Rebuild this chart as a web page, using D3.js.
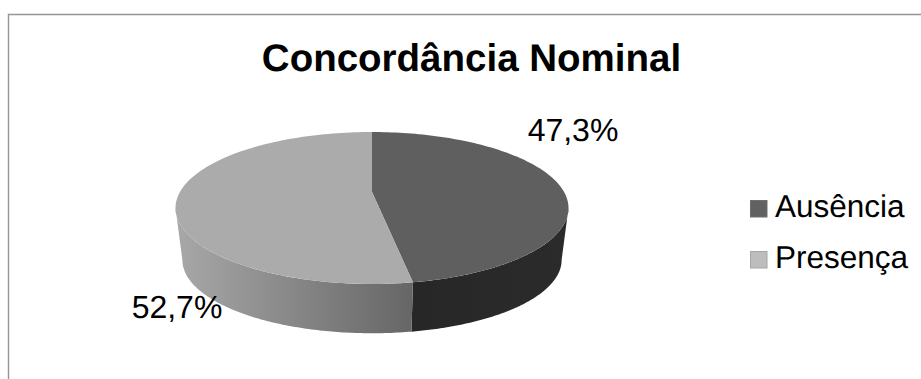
<!DOCTYPE html>
<html>
<head>
<meta charset="utf-8">
<script src="https://cdn.jsdelivr.net/npm/d3@7"></script>
<style>
html,body{margin:0;padding:0;background:#fff}
svg{display:block}
text{font-family:"Liberation Sans",Arial,sans-serif;fill:#000;text-rendering:geometricPrecision}
</style>
</head>
<body>
<svg id="chart" width="921" height="379"></svg>
<script>
const categories = ["Ausência", "Presença"];
const shares = [47.3, 52.7];
const shareLabels = ["47,3%", "52,7%"];
const topColors = ["#5f5f5f", "#ababab"];
const swatchColors = ["#616161", "#bdbdbd"];
const swatchStrokes = ["#6f6f6f", "#a6a6a6"];
const chartTitle = "Concordância Nominal";

const svg = d3.select("#chart");
const W = 921, H = 379;

// Frame runs off the right and bottom edges of the page
svg.append("path")
  .attr("d", d3.line()([[8.5, H], [8.5, 14.5], [W, 14.5]]))
  .attr("fill", "none").attr("stroke", "#959595").attr("stroke-width", 1.4);

svg.append("text").attr("x", 471.5).attr("y", 70.5)
  .attr("text-anchor", "middle").attr("font-size", 38.5).attr("font-weight", 700)
  .text(chartTitle);

// Tilted disc: circle coordinates are pushed through a perspective divide
const centre = { x: 372, y: 192 };
const tilt = 0.2105, spreadX = 192.1, spreadY = 72.6;
const lowerScale = 0.965, depth = 52.5;

function project(angle, scale, drop) {
  const X = Math.sin(angle), Y = -Math.cos(angle), w = 1 - tilt * Y;
  return [centre.x + scale * spreadX * X / w, centre.y + drop + scale * spreadY * Y / w];
}
const upperRim = a => project(a, 1, 0);
const lowerRim = a => project(a, lowerScale, depth);
const arcAngles = (a0, a1) => d3.range(0, 121).map(i => a0 + (a1 - a0) * i / 120);

// The wall is visible between the two widest points of the rim
const silhouette = Math.acos(-tilt);
const visibleFrom = silhouette, visibleTo = 2 * Math.PI - silhouette;

const slices = d3.pie().sort(null).value(d => d)(shares);
const boundaryX = upperRim(slices[0].endAngle)[0];
const leftmostX = upperRim(visibleTo)[0];

const defs = svg.append("defs");
const wallGradient = (id, x1, x2, c1, c2) => {
  const g = defs.append("linearGradient").attr("id", id)
    .attr("gradientUnits", "userSpaceOnUse")
    .attr("x1", x1).attr("x2", x2).attr("y1", 0).attr("y2", 0);
  g.append("stop").attr("offset", 0).attr("stop-color", c1);
  g.append("stop").attr("offset", 1).attr("stop-color", c2);
};
wallGradient("wall0", boundaryX, upperRim(visibleFrom)[0], "#272727", "#2b2b2b");
wallGradient("wall1", leftmostX, boundaryX, "#a8a8a8", "#666666");

const line = d3.line();

// Outer walls sit underneath the top face
svg.append("g").selectAll("path").data(slices).join("path")
  .attr("d", d => {
    const as = arcAngles(Math.max(d.startAngle, visibleFrom), Math.min(d.endAngle, visibleTo));
    return line(as.map(upperRim).concat(as.slice().reverse().map(lowerRim))) + "Z";
  })
  .attr("fill", (d, i) => `url(#wall${i})`);

// Top face wedges
svg.append("g").selectAll("path").data(slices).join("path")
  .attr("d", d => line([[centre.x, centre.y]].concat(arcAngles(d.startAngle, d.endAngle).map(upperRim))) + "Z")
  .attr("fill", (d, i) => topColors[i]);

// Share labels
const labelPos = [[573, 141], [177, 318]];
svg.append("g").selectAll("text").data(shareLabels).join("text")
  .attr("x", (d, i) => labelPos[i][0]).attr("y", (d, i) => labelPos[i][1])
  .attr("text-anchor", "middle").attr("font-size", 32)
  .text(d => d);

// Legend
const legendY = d3.scalePoint().domain(categories).range([208, 259]);
const legend = svg.append("g").selectAll("g").data(categories).join("g")
  .attr("transform", d => `translate(750,${legendY(d)})`);
legend.append("rect").attr("x", 0.5).attr("y", -7.5).attr("width", 16.5).attr("height", 16.5)
  .attr("fill", (d, i) => swatchColors[i]).attr("stroke", (d, i) => swatchStrokes[i]);
legend.append("text").attr("x", 25).attr("y", 8.8).attr("font-size", 31.5).text(d => d);
</script>
</body>
</html>
